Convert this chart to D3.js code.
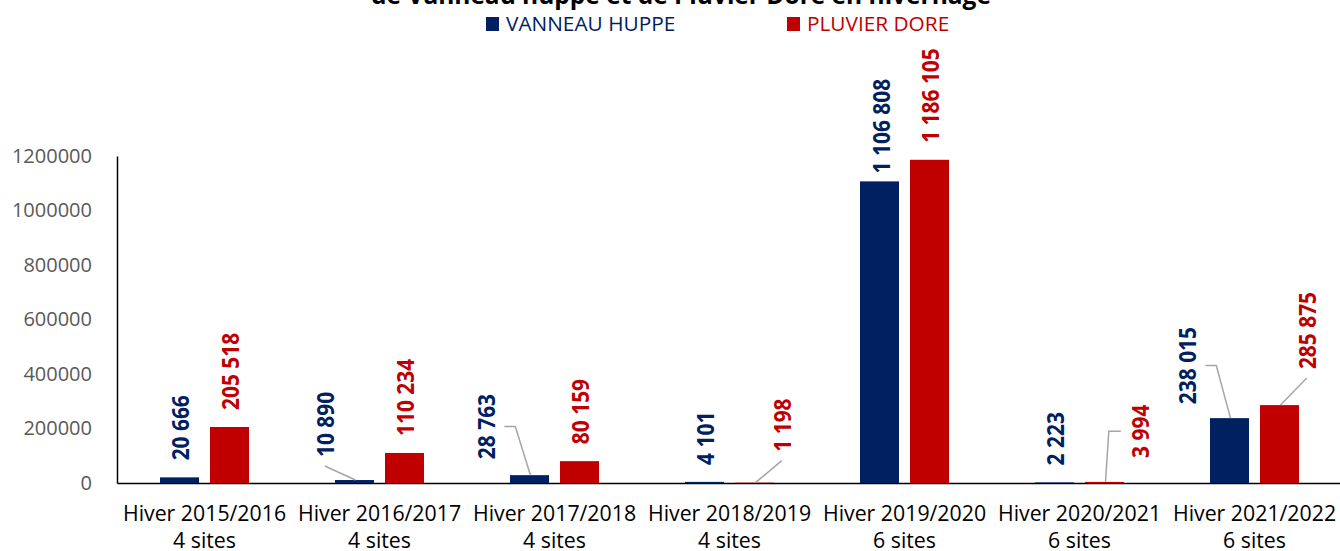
<!DOCTYPE html>
<html>
<head>
<meta charset="utf-8">
<script src="https://cdn.jsdelivr.net/npm/d3@7"></script>
<style>
  html, body { margin: 0; padding: 0; background: #ffffff; }
  svg { display: block; }
</style>
</head>
<body>
<svg id="chart" width="1340" height="551"></svg>
<script>
// ---------- data ----------
const categories = ["Hiver 2015/2016", "Hiver 2016/2017", "Hiver 2017/2018", "Hiver 2018/2019", "Hiver 2019/2020", "Hiver 2020/2021", "Hiver 2021/2022"];
const siteCounts = ["4 sites", "4 sites", "4 sites", "4 sites", "6 sites", "6 sites", "6 sites"];
const seriesNames = ["VANNEAU HUPPE", "PLUVIER DORE"];
const vanneauValues = [20666, 10890, 28763, 4101, 1106808, 2223, 238015];
const pluvierValues = [205518, 110234, 80159, 1198, 1186105, 3994, 285875];
const yTickValues = [0, 200000, 400000, 600000, 800000, 1000000, 1200000];
const titleLine = "de Vanneau huppé et de Pluvier Doré en hivernage";

// ---------- layout / style (kept apart from data) ----------
const colors = ["#002060", "#C00000"];
const labelColors = ["#002060", "#C00000"];
// manual label nudges keyed "series-category": dx, dy and leader style
const labelNudges = {
  "0-1": { dx: -30, dy: -6, leader: "below" },
  "0-2": { dx: -44.5, dy: 1, leader: "right" },
  "0-4": { dx: 1, dy: 9 },
  "0-6": { dx: -43.5, dy: 3, leader: "right" },
  "1-3": { dx: 27, dy: -14, leader: "below" },
  "1-5": { dx: 34.5, dy: -7, leader: "left" },
  "1-6": { dx: 27, dy: -19, leader: "below" }
};
const labelFontSize = 23.5;
const labelStretch = 0.89; // condensed look of the original bold face

const svg = d3.select("#chart");
const plot = { left: 117, right: 1342, top: 156, bottom: 483 };

const x0 = d3.scaleBand().domain(categories).range([plot.left, plot.right]).padding(0);
const x1 = d3.scaleBand().domain([0, 1]).range([43, 132]).paddingInner(0.22);
const y = d3.scaleLinear().domain([0, 1200000]).range([plot.bottom, plot.top]);

const fmt = d3.formatLocale({ decimal: ",", thousands: " ", grouping: [3], currency: ["", ""] }).format(",d");

const seriesValues = [vanneauValues, pluvierValues];

// ---------- title (partly outside the canvas, as in the reference) ----------
svg.append("text")
  .attr("x", 681).attr("y", 4)
  .attr("text-anchor", "middle")
  .style("font-family", "'Open Sans', sans-serif")
  .style("font-weight", "700")
  .style("font-size", "24.5px")
  .attr("fill", "#000")
  .text(titleLine);

// ---------- legend ----------
const legendX = [486, 787];
seriesNames.forEach((name, i) => {
  const g = svg.append("g").attr("transform", `translate(${legendX[i]},0)`);
  g.append("rect").attr("x", 0).attr("y", 17).attr("width", 13).attr("height", 14).attr("fill", colors[i]);
  g.append("text").attr("x", 20).attr("y", 31)
    .style("font-family", "'Open Sans', sans-serif")
    .style("font-size", "20.8px")
    .attr("fill", labelColors[i])
    .text(name);
});

// ---------- y axis ----------
const yAxis = d3.axisLeft(y).tickValues(yTickValues).tickSize(0).tickPadding(25).tickFormat(d3.format("d"));
const yg = svg.append("g").attr("transform", `translate(${plot.left},0)`).call(yAxis);
yg.select(".domain").attr("stroke", "#000").attr("stroke-width", 1.5);
yg.selectAll("text")
  .style("font-family", "'Open Sans', sans-serif")
  .style("font-size", "20px")
  .attr("fill", "#595959");

// ---------- x axis ----------
const xAxis = d3.axisBottom(x0).tickSize(0).tickFormat(() => "");
const xg = svg.append("g").attr("transform", `translate(0,${plot.bottom})`).call(xAxis);
xg.select(".domain").attr("stroke", "#000").attr("stroke-width", 1.5);
xg.selectAll(".tick").each(function (d, i) {
  const t = d3.select(this).append("text")
    .attr("text-anchor", "middle")
    .style("font-family", "'Open Sans', sans-serif")
    .style("font-size", "21.3px")
    .attr("fill", "#000");
  t.append("tspan").attr("x", 0).attr("y", 38).text(d);
  t.append("tspan").attr("x", 0).attr("y", 65).text(siteCounts[i]);
});

// ---------- bars ----------
const barsG = svg.append("g");
seriesValues.forEach((vals, s) => {
  barsG.selectAll(`rect.s${s}`)
    .data(vals)
    .join("rect")
    .attr("class", `s${s}`)
    .attr("x", (d, i) => x0(categories[i]) + x1(s))
    .attr("width", x1.bandwidth())
    .attr("y", d => y(d))
    .attr("height", d => y(0) - y(d))
    .attr("fill", colors[s]);
});

// ---------- data labels + leader lines ----------
const leaderG = svg.append("g");
const labelG = svg.append("g");
seriesValues.forEach((vals, s) => {
  vals.forEach((v, i) => {
    const cx = x0(categories[i]) + x1(s) + x1.bandwidth() / 2;
    const top = y(v);
    const nudge = labelNudges[`${s}-${i}`] || { dx: 0, dy: 0 };
    const ax = cx + 1.3 + nudge.dx;
    const ay = top - 17 + nudge.dy;
    const t = labelG.append("text")
      .attr("transform", `translate(${ax},${ay}) rotate(-90) scale(${labelStretch},1)`)
      .attr("dy", "0.36em")
      .style("font-family", "'Open Sans', sans-serif")
      .style("font-weight", "700")
      .style("font-size", labelFontSize + "px")
      .attr("fill", labelColors[s])
      .text(fmt(v));
    if (nudge.leader) {
      const L = t.node().getComputedTextLength() * labelStretch;
      const end = [cx + 1, top];
      let pts;
      if (nudge.leader === "below") {
        pts = [[ax - 1, ay + 9], end];
      } else if (nudge.leader === "right") {
        const sx = ax + 18, sy = ay - L / 2;
        pts = [[sx, sy], [sx + 11, sy], end];
      } else {
        const sx = ax - 19.5, sy = ay - L / 2;
        pts = [[sx, sy], [sx - 12, sy], end];
      }
      leaderG.append("path")
        .attr("d", d3.line()(pts))
        .attr("fill", "none")
        .attr("stroke", "#A6A6A6")
        .attr("stroke-width", 1.5);
    }
  });
});
</script>
</body>
</html>
